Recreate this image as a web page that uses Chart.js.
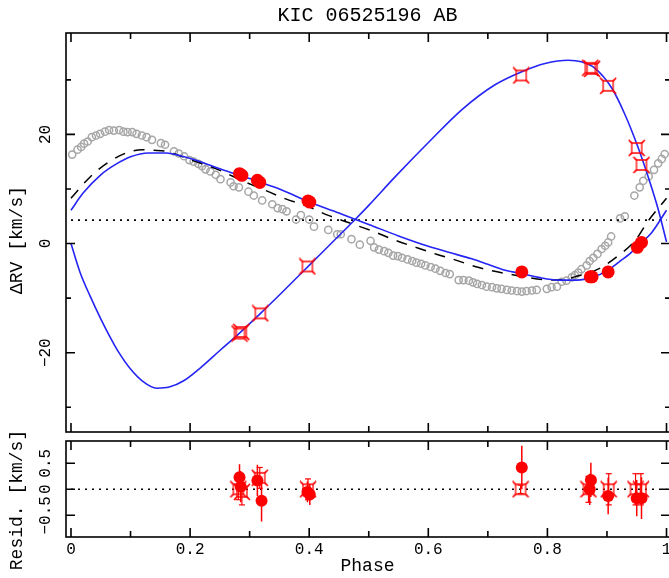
<!DOCTYPE html>
<html>
<head>
<meta charset="utf-8">
<script src="https://cdn.jsdelivr.net/npm/chart.js@4.4.1/dist/chart.umd.min.js"></script>
<style>
  html, body { margin: 0; padding: 0; background: #fff; overflow: hidden; }
  #wrap { position: relative; width: 669px; height: 578px; overflow: hidden; }
  #top { position: absolute; left: 0; top: 0; }
  #bot { position: absolute; left: 0; top: 400px; }
</style>
</head>
<body>
<div id="wrap">
  <canvas id="top" width="680" height="442" style="width:680px;height:442px"></canvas>
  <canvas id="bot" width="680" height="178" style="width:680px;height:178px"></canvas>
</div>
<script>
// Axes
const phaseTicks = [0, 0.2, 0.4, 0.6, 0.8, 1];
const phaseTickLabels = ['0', '0.2', '0.4', '0.6', '0.8', '1'];
const phaseMinor = [0.1, 0.3, 0.5, 0.7, 0.9];
const rvTicks = [-20, 0, 20];
const rvTickLabels = ['\u221220', '0', '20'];
const rvMinor = [-30, -10, 10, 30];
const residTicks = [-0.5, 0, 0.5];
const residTickLabels = ['\u22120.5', '0', '0.5'];
const gamma = 4.3;

// Model curve, primary (blue)
const primPhase = [0, 0.02, 0.05, 0.075, 0.1, 0.13, 0.16, 0.19, 0.215, 0.25, 0.28, 0.3, 0.326, 0.35, 0.4, 0.45, 0.478, 0.5, 0.55, 0.6, 0.634, 0.673, 0.7, 0.729, 0.757, 0.785, 0.818, 0.85, 0.875, 0.9, 0.92, 0.94, 0.952, 0.975, 1];
const primRV = [6.1, 9.2, 12.6, 14.5, 15.9, 16.6, 16.6, 15.9, 15.1, 13.7, 12.6, 11.9, 10.9, 10.0, 7.6, 5.6, 4.4, 3.5, 1.4, -0.5, -1.6, -2.8, -3.8, -4.9, -5.5, -6.2, -6.7, -6.7, -6.2, -5.0, -3.4, -1.7, -0.4, 2.0, 6.1];

// Model curve, secondary (blue)
const secPhase = [0, 0.015, 0.032, 0.05, 0.065, 0.08, 0.1, 0.12, 0.144, 0.165, 0.19, 0.216, 0.25, 0.283, 0.32, 0.353, 0.4, 0.433, 0.478, 0.5, 0.545, 0.601, 0.657, 0.712, 0.757, 0.796, 0.835, 0.857, 0.88, 0.908, 0.93, 0.952, 0.969, 0.986, 1];
const secRV = [0, -5.2, -9.6, -13.8, -17.0, -19.9, -23.0, -25.2, -26.5, -26.3, -25.1, -22.9, -19.6, -16.4, -12.6, -9.1, -4.0, -0.4, 4.5, 7.0, 12.3, 18.6, 24.6, 29.1, 31.5, 33.0, 33.6, 33.3, 32.1, 28.5, 23.7, 17.7, 12.3, 6.3, 0.3];

// Dashed curve
const dashPhase = [0, 0.033, 0.064, 0.098, 0.12, 0.139, 0.159, 0.2, 0.248, 0.29, 0.321, 0.358, 0.4, 0.431, 0.467, 0.506, 0.542, 0.579, 0.615, 0.634, 0.685, 0.746, 0.807, 0.83, 0.846, 0.885, 0.919, 0.947, 0.969, 1];
const dashRV = [8.3, 12.3, 15.0, 16.8, 17.2, 17.1, 16.9, 15.4, 13.5, 11.4, 10.0, 8.3, 6.7, 5.2, 3.8, 2.3, 0.7, -0.7, -2.0, -2.6, -4.4, -5.8, -6.7, -6.6, -6.1, -4.7, -2.2, 0.5, 4.1, 8.3];

// Grey open circles
const greyPhase = [0.002, 0.011, 0.017, 0.022, 0.028, 0.035, 0.042, 0.049, 0.057, 0.064, 0.072, 0.081, 0.088, 0.095, 0.103, 0.11, 0.119, 0.127, 0.136, 0.151, 0.158, 0.173, 0.181, 0.19, 0.199, 0.206, 0.214, 0.22, 0.226, 0.234, 0.243, 0.251, 0.268, 0.273, 0.282, 0.298, 0.307, 0.321, 0.338, 0.347, 0.355, 0.362, 0.378, 0.386, 0.4, 0.408, 0.432, 0.447, 0.453, 0.471, 0.485, 0.503, 0.509, 0.517, 0.526, 0.533, 0.541, 0.549, 0.556, 0.565, 0.573, 0.58, 0.588, 0.595, 0.604, 0.612, 0.62, 0.629, 0.636, 0.651, 0.659, 0.668, 0.675, 0.682, 0.69, 0.698, 0.707, 0.715, 0.723, 0.732, 0.74, 0.749, 0.757, 0.765, 0.774, 0.782, 0.799, 0.807, 0.816, 0.824, 0.832, 0.841, 0.846, 0.852, 0.857, 0.866, 0.871, 0.877, 0.884, 0.891, 0.897, 0.902, 0.907, 0.922, 0.93, 0.946, 0.955, 0.961, 0.97, 0.979, 0.986, 0.992, 0.997];
const greyRV = [16.3, 17.2, 17.7, 18.3, 18.7, 19.5, 19.8, 20.1, 20.5, 20.8, 20.7, 20.8, 20.5, 20.4, 20.4, 20.1, 19.8, 19.5, 19.0, 18.4, 18.1, 16.9, 16.5, 16.0, 15.3, 15.0, 14.6, 14.2, 13.6, 13.2, 12.6, 11.8, 11.2, 10.5, 10.3, 9.5, 8.8, 7.9, 7.2, 6.5, 6.3, 5.9, 4.4, 5.2, 4.4, 3.1, 2.5, 1.7, 1.7, 0.8, -0.2, 0.5, -0.7, -1.1, -1.4, -1.7, -2.2, -2.3, -2.6, -2.9, -3.2, -3.5, -3.7, -4.0, -4.3, -4.6, -5.0, -5.4, -5.6, -6.7, -6.7, -6.8, -7.1, -7.4, -7.6, -7.9, -8.0, -8.2, -8.3, -8.5, -8.6, -8.7, -8.8, -8.7, -8.6, -8.5, -8.3, -8.0, -7.9, -7.0, -6.8, -6.2, -5.8, -5.3, -4.7, -4.0, -3.2, -2.6, -1.9, -1.0, -0.4, 0.2, 1.3, 4.6, 5.0, 8.8, 10.3, 11.5, 12.3, 13.5, 14.7, 15.5, 16.4];

// Observed RVs
const obsPPhase = [0.283, 0.287, 0.313, 0.317, 0.398, 0.401, 0.757, 0.872, 0.875, 0.902, 0.951, 0.958];
const obsPRV = [12.8, 12.5, 11.6, 11.2, 7.8, 7.6, -5.2, -6.1, -6.1, -5.2, -0.7, 0.2];
const obsSPhase = [0.283, 0.286, 0.318, 0.397, 0.756, 0.872, 0.875, 0.902, 0.95, 0.958];
const obsSRV = [-16.5, -16.2, -12.8, -4.2, 30.8, 32.2, 32.0, 28.9, 17.5, 14.4];

// Residuals
const resPPhase = [0.283, 0.285, 0.313, 0.32, 0.397, 0.401, 0.757, 0.873, 0.871, 0.902, 0.95, 0.958];
const resPVal = [0.23, 0.05, 0.17, -0.22, -0.05, -0.1, 0.42, 0.18, 0.0, -0.13, -0.17, -0.17];
const resPErr = [0.25, 0.3, 0.3, 0.4, 0.2, 0.2, 0.42, 0.33, 0.3, 0.35, 0.35, 0.4];
const resSPhase = [0.281, 0.287, 0.317, 0.398, 0.755, 0.869, 0.903, 0.948, 0.957];
const resSVal = [0.0, -0.05, 0.22, 0.0, 0.0, 0.0, 0.0, 0.0, 0.0];
const resSErr = [0.2, 0.25, 0.2, 0.2, 0.08, 0.25, 0.3, 0.3, 0.3];

const RED = '#ff0000';
const BLUE = '#2424f4';
const GREY = '#a6a6a6';
const FONT = '"Liberation Mono", "DejaVu Sans Mono", monospace';

// x range so that 0 and 1 land where the reference has them
const xMin = -0.00837;
const xMax = 1.00586;

const pts = (xs, ys) => xs.map((x, i) => ({ x: x, y: ys[i] }));

function errBars(xs, ys, es) {
    const out = [];
    xs.forEach((x, i) => {
        out.push({ x: x, y: ys[i] - es[i] }, { x: x, y: ys[i] + es[i] }, { x: x, y: null });
    });
    return out;
}
function errCaps(xs, ys, es) {
    const out = [];
    xs.forEach((x, i) => { out.push({ x: x, y: ys[i] - es[i] }, { x: x, y: ys[i] + es[i] }); });
    return out;
}

// marker for secondary: square with flared corners
const sq = document.createElement('canvas');
sq.width = 18; sq.height = 18;
(function () {
    const c = sq.getContext('2d');
    c.strokeStyle = RED; c.lineWidth = 1.3;
    c.beginPath();
    c.moveTo(1, 1); c.lineTo(4.5, 4); c.lineTo(13.5, 4); c.lineTo(17, 1);
    c.lineTo(14, 4.5); c.lineTo(14, 13.5); c.lineTo(17, 17);
    c.lineTo(13.5, 14); c.lineTo(4.5, 14); c.lineTo(1, 17);
    c.lineTo(4, 13.5); c.lineTo(4, 4.5); c.closePath();
    c.stroke();
})();

// frame, inward ticks, tick labels and axis titles
const frame = {
    id: 'frame',
    afterDraw(chart, args, o) {
        const { ctx, chartArea: a, scales: { x, y } } = chart;
        ctx.save();
        ctx.strokeStyle = '#000';
        ctx.lineWidth = 1.6;
        ctx.strokeRect(a.left, a.top, a.right - a.left, a.bottom - a.top);
        ctx.beginPath();
        const xt = (v, len) => {
            const px = x.getPixelForValue(v);
            ctx.moveTo(px, a.top); ctx.lineTo(px, a.top + len);
            ctx.moveTo(px, a.bottom); ctx.lineTo(px, a.bottom - len);
        };
        const yt = (v, len) => {
            const py = y.getPixelForValue(v);
            ctx.moveTo(a.left, py); ctx.lineTo(a.left + len, py);
            ctx.moveTo(a.right, py); ctx.lineTo(a.right - len, py);
        };
        phaseTicks.forEach(v => xt(v, 9));
        phaseMinor.forEach(v => xt(v, 6));
        o.yTicks.forEach(v => yt(v, 9));
        o.yMinor.forEach(v => yt(v, 5));
        ctx.stroke();

        ctx.fillStyle = '#000';
        ctx.textAlign = 'center';
        ctx.textBaseline = 'middle';
        ctx.font = '16px ' + FONT;
        o.yTicks.forEach((v, i) => {
            ctx.save();
            ctx.translate(46, y.getPixelForValue(v));
            ctx.rotate(-Math.PI / 2);
            ctx.fillText(o.yLabels[i], 0, 0);
            ctx.restore();
        });
        ctx.save();
        ctx.font = '18px ' + FONT;
        ctx.translate(17, o.yTitlePos);
        ctx.rotate(-Math.PI / 2);
        ctx.fillText(o.yTitle, 0, 0);
        ctx.restore();

        const cx = (a.left + 669) / 2;
        if (o.title) {
            ctx.font = '20px ' + FONT;
            ctx.fillText(o.title, cx, 16);
        }
        if (o.xLabels) {
            ctx.font = '16px ' + FONT;
            phaseTicks.forEach((v, i) => ctx.fillText(phaseTickLabels[i], x.getPixelForValue(v), a.bottom + 13));
            ctx.font = '18px ' + FONT;
            ctx.fillText('Phase', cx, a.bottom + 29);
        }
        ctx.restore();
    }
};

function baseOptions(ymin, ymax, pad, frameOpts) {
    return {
        responsive: false,
        animation: false,
        events: [],
        layout: { padding: pad },
        plugins: {
            legend: { display: false },
            tooltip: { enabled: false },
            frame: frameOpts
        },
        scales: {
            x: { type: 'linear', min: xMin, max: xMax, display: false },
            y: { type: 'linear', min: ymin, max: ymax, display: false }
        }
    };
}

new Chart(document.getElementById('top'), {
    type: 'line',
    data: {
        datasets: [
            { data: pts(obsPPhase, obsPRV), showLine: false, pointRadius: 6.5, pointBackgroundColor: RED, pointBorderColor: RED, pointBorderWidth: 0 },
            { data: pts(obsSPhase, obsSRV), showLine: false, pointStyle: sq, pointRadius: 9 },
            { data: pts(primPhase, primRV), borderColor: BLUE, borderWidth: 1.6, pointRadius: 0, cubicInterpolationMode: 'monotone' },
            { data: pts(secPhase, secRV), borderColor: BLUE, borderWidth: 1.6, pointRadius: 0, cubicInterpolationMode: 'monotone' },
            { data: pts([0, 1], [gamma, gamma]), borderColor: '#000', borderWidth: 1.6, borderDash: [2, 5], pointRadius: 0 },
            { data: pts(dashPhase, dashRV), borderColor: '#000', borderWidth: 1.5, borderDash: [11, 9], pointRadius: 0, cubicInterpolationMode: 'monotone' },
            { data: pts(greyPhase, greyRV), showLine: false, pointRadius: 3.6, pointBorderWidth: 1.5, pointBorderColor: GREY, pointBackgroundColor: 'rgba(0,0,0,0)' }
        ]
    },
    options: baseOptions(-34.53, 38.58, { top: 33, bottom: 1, left: 66, right: 8 }, {
        yTicks: rvTicks, yMinor: rvMinor, yLabels: rvTickLabels,
        yTitle: '\u0394RV [km/s]', yTitlePos: 240, title: 'KIC 06525196 AB', xLabels: false
    }),
    plugins: [frame]
});

// residual panel: canvas starts at y=400, plot area 441..537
new Chart(document.getElementById('bot'), {
    type: 'line',
    data: {
        datasets: [
            { data: pts(resPPhase, resPVal), showLine: false, pointRadius: 6, pointBackgroundColor: RED, pointBorderColor: RED, pointBorderWidth: 0 },
            { data: pts(resSPhase, resSVal), showLine: false, pointStyle: sq, pointRadius: 9 },
            { data: errBars(resPPhase, resPVal, resPErr), borderColor: RED, borderWidth: 1.5, pointRadius: 0 },
            { data: errBars(resSPhase, resSVal, resSErr), borderColor: RED, borderWidth: 1.2, pointRadius: 0 },
            { data: errCaps(resSPhase, resSVal, resSErr), showLine: false, pointStyle: 'line', pointRadius: 3, pointBorderColor: RED, pointBorderWidth: 1.2 },
            { data: pts([0, 1], [0, 0]), borderColor: '#000', borderWidth: 1.6, borderDash: [2, 5], pointRadius: 0 }
        ]
    },
    options: baseOptions(-0.917, 0.929, { top: 41, bottom: 41, left: 66, right: 8 }, {
        yTicks: residTicks, yMinor: [], yLabels: residTickLabels,
        yTitle: 'Resid. [km/s]', yTitlePos: 500 - 400, title: null, xLabels: true
    }),
    plugins: [frame]
});
</script>
</body>
</html>
